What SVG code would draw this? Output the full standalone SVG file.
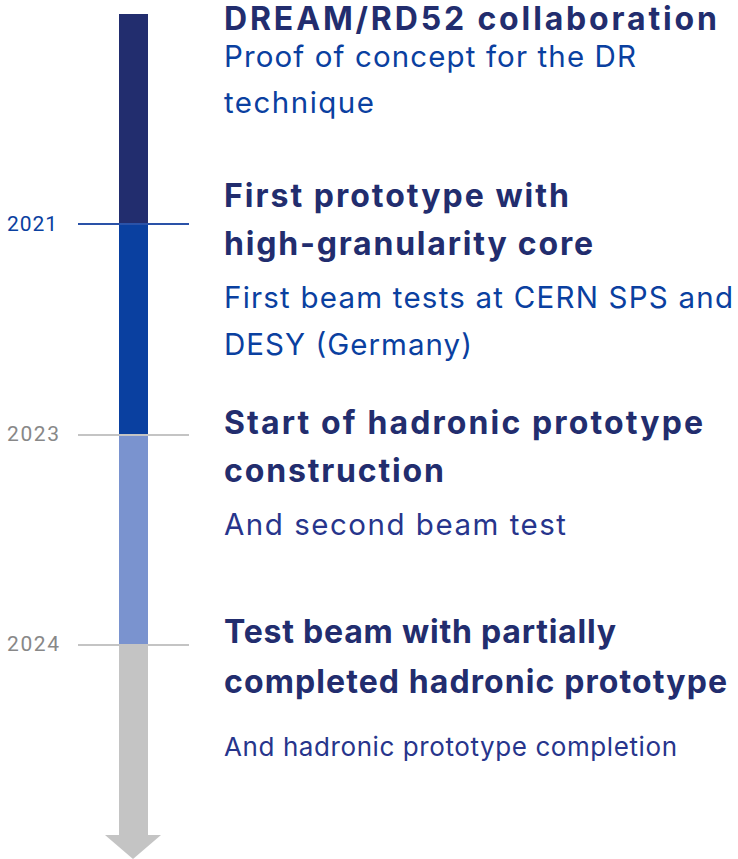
<svg xmlns="http://www.w3.org/2000/svg" width="738" height="859" viewBox="0 0 738 859">
<style>
.t{font-family:Inter,"Liberation Sans",sans-serif;font-weight:700;font-size:32px;fill:#222d6e}
.s{font-family:Inter,"Liberation Sans",sans-serif;font-weight:400;font-size:29.5px;fill:#0a40a0}
.s2{fill:#27358c}
.y{font-family:Roboto,"Liberation Sans",sans-serif;font-size:21px;fill:#888888}
.tick{stroke:#c4c4c4;stroke-width:2}
</style>
<rect width="738" height="859" fill="#ffffff"/>
<g id="bar">
<rect x="119" y="14" width="29" height="210" fill="#222d6e"/>
<rect x="119" y="224" width="29" height="210" fill="#0a40a0"/>
<rect x="119" y="434" width="29" height="211" fill="#7a93cf"/>
<rect x="119" y="645" width="29" height="191" fill="#c4c4c4"/>
<polygon points="105,835 161,835 133,859" fill="#c4c4c4"/>
</g>
<g id="connectors">
<line x1="78" y1="224" x2="189" y2="224" stroke="#2a52a8" stroke-width="2"/>
<line class="tick" x1="78" y1="435" x2="189" y2="435"/>
<line class="tick" x1="78" y1="645" x2="189" y2="645"/>
</g>
<g id="y2021"><text class="y" x="7" y="231" textLength="50" style="fill:#0a40a0">2021</text></g>
<g id="y2023"><text class="y" x="7" y="441" textLength="52">2023</text></g>
<g id="y2024"><text class="y" x="7" y="651" textLength="52">2024</text></g>
<g id="n1">
<text class="t" x="224" y="30" textLength="493">DREAM/RD52 collaboration</text>
<text class="s" x="224" y="67" textLength="412">Proof of concept for the DR</text>
<text class="s" x="224" y="113" textLength="150">technique</text>
</g>
<g id="n2">
<text class="t" x="224" y="207" textLength="345">First prototype with</text>
<text class="t" x="224" y="255" textLength="369">high-granularity core</text>
<text class="s" x="224" y="308" textLength="509">First beam tests at CERN SPS and</text>
<text class="s" x="224" y="355" textLength="248">DESY (Germany)</text>
</g>
<g id="n3">
<text class="t" x="224" y="434" textLength="479">Start of hadronic prototype</text>
<text class="t" x="224" y="482" textLength="220">construction</text>
<text class="s s2" x="224" y="535" textLength="342">And second beam test</text>
</g>
<g id="n4">
<text class="t" x="224" y="643" textLength="392">Test beam with partially</text>
<text class="t" x="224" y="693" textLength="503">completed hadronic prototype</text>
<text class="s s2" x="224" y="756" textLength="453" style="font-size:26px">And hadronic prototype completion</text>
</g>
</svg>
